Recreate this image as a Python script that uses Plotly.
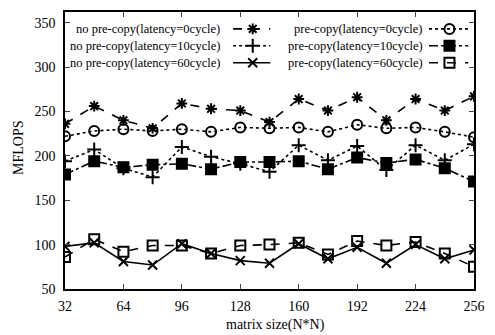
import plotly.graph_objects as go

sizes = [32, 48, 64, 80, 96, 112, 128, 144, 160, 176, 192, 208, 224, 240, 256]
no_pre_0 = [236, 256, 240, 231, 259, 253, 251, 238, 264, 251, 266, 240, 264, 251, 267]
no_pre_10 = [194, 207, 186, 176, 210, 199, 191, 182, 212, 195, 211, 184, 212, 195, 213]
no_pre_60 = [98, 102, 81, 77, 101, 90, 82, 79, 101, 84, 97, 79, 100, 84, 94]
pre_0 = [222, 228, 230, 228, 230, 227, 232, 231, 232, 227, 235, 231, 232, 227, 221]
pre_10 = [179, 194, 187, 190, 191, 185, 193, 193, 194, 185, 198, 192, 196, 186, 171]
pre_60 = [86, 106, 92, 99, 99, 90, 99, 100, 102, 89, 104, 99, 103, 90, 75]
y_ticks = [50, 100, 150, 200, 250, 300, 350]
x_ticks = [32, 64, 96, 128, 160, 192, 224, 256]

names = ["no pre-copy(latency=0cycle)", "no pre-copy(latency=10cycle)", "no pre-copy(latency=60cycle)",
         "pre-copy(latency=0cycle)", "pre-copy(latency=10cycle)", "pre-copy(latency=60cycle)"]
series = [no_pre_0, no_pre_10, no_pre_60, pre_0, pre_10, pre_60]
styles = [
    dict(dash="dash", symbol="asterisk-open", size=9),
    dict(dash="dot", symbol="cross-thin-open", size=10),
    dict(dash="solid", symbol="x-thin-open", size=9),
    dict(dash="dot", symbol="circle-open", size=10),
    dict(dash="dashdot", symbol="square", size=10),
    dict(dash="dash", symbol="square-open", size=10),
]

FONT = "Liberation Serif, Times New Roman, serif"
fig = go.Figure()
for nm, ys, st in zip(names, series, styles):
    fig.add_trace(go.Scatter(
        x=sizes, y=ys, mode="lines+markers", name=nm, showlegend=False,
        line=dict(color="black", width=1.6, dash=st["dash"]),
        marker=dict(symbol=st["symbol"], size=st["size"], color="black",
                    line=dict(color="black", width=2)),
    ))

# legend keys drawn on a hidden overlay axis (0..1 of plot area)
rows = [0.939, 0.878, 0.817]
cols = [(0.411, 0.459, 0.502, 0.383), (0.890, 0.940, 0.986, 0.880)]
for i, (nm, st) in enumerate(zip(names, styles)):
    c = cols[i // 3]
    r = rows[i % 3]
    fig.add_trace(go.Scatter(
        x=[c[0], c[1], c[2]], y=[r, r, r], xaxis="x2", yaxis="y2",
        mode="lines", showlegend=False, hoverinfo="skip",
        line=dict(color="black", width=1.6, dash=st["dash"]),
    ))
    fig.add_trace(go.Scatter(
        x=[c[1]], y=[r], xaxis="x2", yaxis="y2",
        mode="markers", showlegend=False, hoverinfo="skip",
        marker=dict(symbol=st["symbol"], size=st["size"], color="black",
                    line=dict(color="black", width=2)),
    ))
    fig.add_annotation(x=c[3], y=r, xref="paper", yref="paper", text=nm,
                       showarrow=False, xanchor="right", yanchor="middle",
                       font=dict(family=FONT, size=12.5, color="black"))

fig.add_annotation(x=0.514, y=-0.13, xref="paper", yref="paper", text="matrix size(N*N)",
                   showarrow=False, xanchor="center", yanchor="middle",
                   font=dict(family=FONT, size=14, color="black"))
fig.add_annotation(x=-0.115, y=0.509, xref="paper", yref="paper", text="MFLOPS",
                   showarrow=False, textangle=-90, xanchor="center", yanchor="middle",
                   font=dict(family=FONT, size=14, color="black"))

fig.update_layout(
    width=495, height=335,
    margin=dict(l=65, r=12, t=10, b=46),
    paper_bgcolor="white", plot_bgcolor="white",
    font=dict(family=FONT, size=14, color="black"),
    xaxis=dict(range=[32, 256], tickvals=x_ticks, ticks="inside", ticklen=5,
               showline=True, linecolor="black", linewidth=1.5, mirror="ticks",
               showgrid=False, zeroline=False, ticklabelstandoff=3,
               tickfont=dict(family=FONT, size=14)),
    yaxis=dict(range=[50, 362], tickvals=y_ticks, ticks="inside", ticklen=5,
               showline=True, linecolor="black", linewidth=1.5, mirror="ticks",
               showgrid=False, zeroline=False, ticklabelstandoff=5,
               tickfont=dict(family=FONT, size=14)),
    xaxis2=dict(overlaying="x", range=[0, 1], visible=False, fixedrange=True),
    yaxis2=dict(overlaying="y", range=[0, 1], visible=False, fixedrange=True),
    showlegend=False,
)
fig.write_html("out.html", config={"displayModeBar": False},
               post_script="document.body.style.margin='0px';"
                           "document.documentElement.style.overflow='hidden';")
